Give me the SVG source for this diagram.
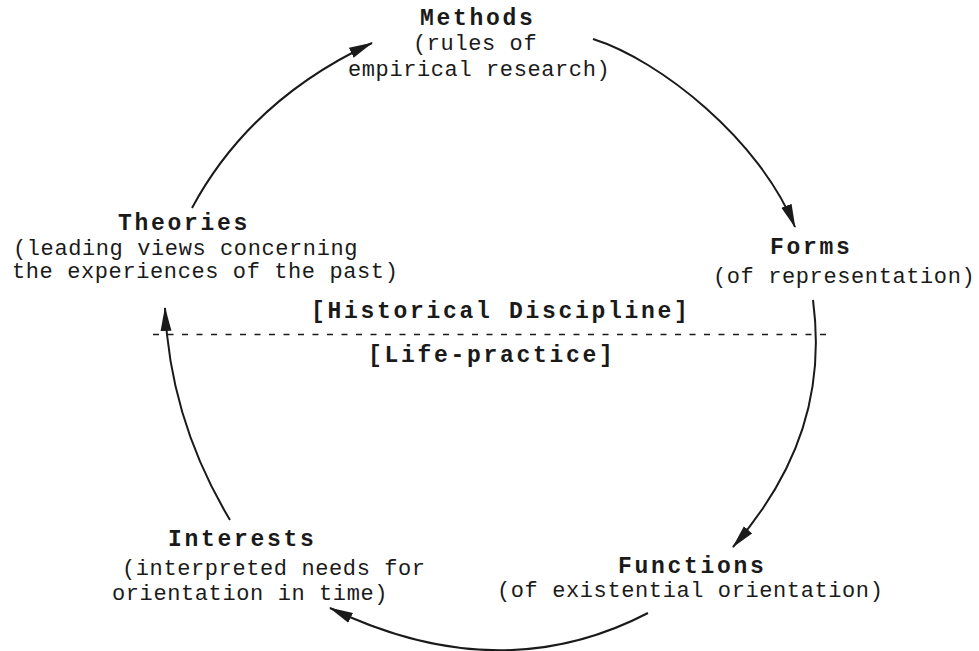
<svg xmlns="http://www.w3.org/2000/svg" width="979" height="651" viewBox="0 0 979 651">
<defs>
<style>
.t{font-family:"Liberation Mono","DejaVu Sans Mono",monospace;font-size:22px;letter-spacing:0.6px;fill:#1a1a1a;}
.b{font-family:"Liberation Mono","DejaVu Sans Mono",monospace;font-size:23px;font-weight:bold;letter-spacing:2.7px;fill:#1a1a1a;}
.c{fill:none;stroke:#1a1a1a;stroke-width:2;}
.d{fill:none;stroke:#1a1a1a;stroke-width:1.6;stroke-dasharray:6 8.5;}
</style>
<marker id="ah" markerUnits="userSpaceOnUse" markerWidth="24" markerHeight="12" viewBox="0 0 22 10" refX="21" refY="5" orient="auto">
<path d="M0,0 L22,5 L0,10 z" fill="#1a1a1a"/>
</marker>
</defs>
<rect width="979" height="651" fill="#ffffff"/>
<g id="methods">
<text class="b" x="420" y="25">Methods</text>
<text class="t" x="413" y="50">(rules of</text>
<text class="t" x="348" y="76">empirical research)</text>
</g>
<g id="theories">
<text class="b" x="118" y="230">Theories</text>
<text class="t" x="13" y="255">(leading views concerning</text>
<text class="t" x="12" y="278">the experiences of the past)</text>
</g>
<g id="forms">
<text class="b" x="770" y="254">Forms</text>
<text class="t" x="713" y="283">(of representation)</text>
</g>
<g id="interests">
<text class="b" x="168" y="546">Interests</text>
<text class="t" x="122" y="575">(interpreted needs for</text>
<text class="t" x="112" y="600">orientation in time)</text>
</g>
<g id="functions">
<text class="b" x="618" y="573">Functions</text>
<text class="t" x="497" y="597">(of existential orientation)</text>
</g>
<g id="divider">
<line class="d" x1="153" y1="334.5" x2="830" y2="334.5"/>
<text class="b" x="311" y="318">[Historical Discipline]</text>
<text class="b" x="368" y="362">[Life-practice]</text>
</g>
<g id="connectors">
<path class="c" marker-end="url(#ah)" d="M192,208 Q250,100 372,43"/>
<path class="c" marker-end="url(#ah)" d="M593,39 C660,60 760,140 795,227"/>
<path class="c" marker-end="url(#ah)" d="M813,300 C825,390 800,470 733,547"/>
<path class="c" marker-end="url(#ah)" d="M648,613 Q500,690 330,608"/>
<path class="c" marker-end="url(#ah)" d="M230,520 Q170,420 165,308"/>
</g>
</svg>
